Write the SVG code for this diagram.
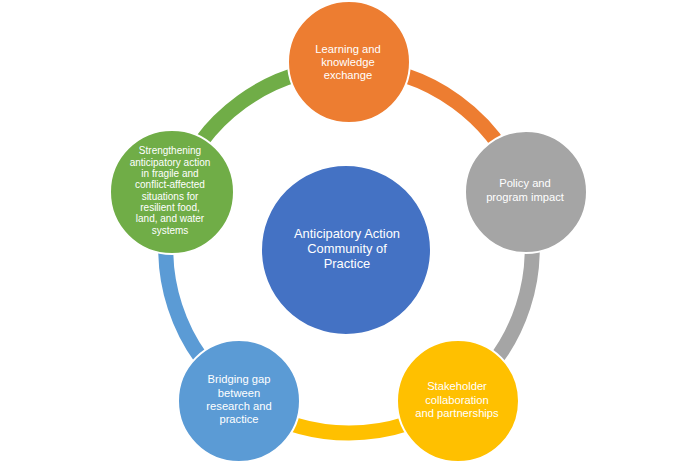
<svg xmlns="http://www.w3.org/2000/svg" width="696" height="464" viewBox="0 0 696 464">
<style>
.arc{fill:none;stroke-width:15}
.node{stroke:#ffffff;stroke-width:2}
.t{font-family:"Liberation Sans",Arial,sans-serif;fill:#ffffff;text-anchor:middle}
.s{font-size:11.2px}
.xs{font-size:10px}
.c{font-size:12.9px}
</style>
<rect width="696" height="464" fill="#ffffff"/>
<g id="connectors">
<path class="arc" stroke="#ED7D31" d="M349 67 A183 183 0 0 1 523.04 193.45"/>
<path class="arc" stroke="#A5A5A5" d="M523.04 193.45 A183 183 0 0 1 456.57 398.05"/>
<path class="arc" stroke="#FFC000" d="M456.57 398.05 A183 183 0 0 1 241.43 398.05"/>
<path class="arc" stroke="#5B9BD5" d="M241.43 398.05 A183 183 0 0 1 174.96 193.45"/>
<path class="arc" stroke="#70AD47" d="M174.96 193.45 A183 183 0 0 1 349 67"/>
</g>
<g id="center">
<circle class="node" cx="346" cy="250" r="85" fill="#4472C4"/>
<text class="t c" x="347" y="237.5">Anticipatory Action</text>
<text class="t c" x="347" y="252.5">Community of</text>
<text class="t c" x="347" y="267.5">Practice</text>
</g>
<g id="learning">
<circle class="node" cx="349" cy="62" r="61" fill="#ED7D31"/>
<text class="t s" x="348" y="53">Learning and</text>
<text class="t s" x="348" y="66">knowledge</text>
<text class="t s" x="348" y="79">exchange</text>
</g>
<g id="policy">
<circle class="node" cx="526" cy="192" r="61" fill="#A5A5A5"/>
<text class="t s" x="525" y="187">Policy and</text>
<text class="t s" x="525" y="201">program impact</text>
</g>
<g id="stakeholder">
<circle class="node" cx="458" cy="401" r="61" fill="#FFC000"/>
<text class="t s" x="457" y="390">Stakeholder</text>
<text class="t s" x="457" y="403.5">collaboration</text>
<text class="t s" x="457" y="417">and partnerships</text>
</g>
<g id="bridging">
<circle class="node" cx="239" cy="401" r="61" fill="#5B9BD5"/>
<text class="t s" x="239" y="383">Bridging gap</text>
<text class="t s" x="239" y="396.5">between</text>
<text class="t s" x="239" y="410">research and</text>
<text class="t s" x="239" y="423">practice</text>
</g>
<g id="strengthening">
<circle class="node" cx="172" cy="192" r="62" fill="#70AD47"/>
<text class="t xs" x="170" y="154">Strengthening</text>
<text class="t xs" x="170" y="165.5">anticipatory action</text>
<text class="t xs" x="170" y="177">in fragile and</text>
<text class="t xs" x="170" y="188.3">conflict-affected</text>
<text class="t xs" x="170" y="199.6">situations for</text>
<text class="t xs" x="170" y="211">resilient food,</text>
<text class="t xs" x="170" y="222.3">land, and water</text>
<text class="t xs" x="170" y="233.6">systems</text>
</g>
</svg>
